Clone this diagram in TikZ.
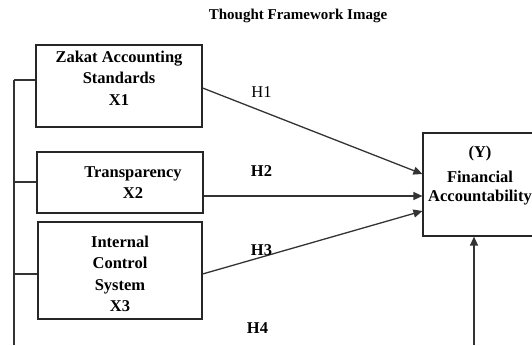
\documentclass[tikz,border=0pt]{standalone}
\usepackage{fontspec}
\setmainfont{Liberation Serif}
\usetikzlibrary{arrows.meta,calc}
\begin{document}
\begin{tikzpicture}[x=1pt,y=-1pt,
  box/.style={draw=black!85, line width=1.2pt, rectangle, inner sep=0pt},
  txt/.style={font=\fontsize{16.5}{21.5}\selectfont\bfseries, align=center, inner sep=0pt},
  hlab/.style={font=\fontsize{16.5}{20}\selectfont, inner sep=0pt, anchor=base},
  hbold/.style={hlab, font=\fontsize{16.5}{20}\selectfont\bfseries},
  conn/.style={draw=black!80, line width=1.3pt},
  arr/.style={conn, -{Triangle[length=9pt,width=8pt]}}]
\useasboundingbox (0,0) rectangle (532,345);
\clip (0,0) rectangle (532,345);
\node[font=\fontsize{15}{18}\selectfont\bfseries, inner sep=0pt, anchor=base] (title) at (298,20) {Thought Framework Image};
% boxes
\node[box, minimum width=166, minimum height=82] (X1) at (119,86) {};
\node[box, minimum width=166, minimum height=61] (X2) at (120,182.5) {};
\node[box, minimum width=164, minimum height=97] (X3) at (120,270.5) {};
\node[box, minimum width=120, minimum height=103] (Y) at (483,184.5) {};
% box texts
\node[txt, anchor=north] (X1t) at (119,50.8) {Zakat Accounting\\Standards\\X1};
\node[txt, anchor=north] (X2t) at (133,166) {Transparency\\X2};
\node[txt, anchor=north] (X3t) at (120,235.8) {Internal\\Control\\System\\X3};
\node[txt, anchor=north] (Yt) at (480,145.5) {(Y)\\[4pt]Financial\\[-3pt]Accountability};
% left bracket
\coordinate (s1) at (14,80);
\coordinate (s2) at (14,182);
\coordinate (s3) at (14,274);
\coordinate (sb) at (14,345);
\coordinate (yb) at (474,345);
\draw[conn] (s1) -- (sb);
\draw[conn] (s1) -- (s1 -| X1.west);
\draw[conn] (s2) -- (s2 -| X2.west);
\draw[conn] (s3) -- (s3 -| X3.west);
% arrows
\draw[arr] ($(X1.east)+(0,2)$) -- ($(Y.west)+(0,-10.5)$);
\draw[arr] ($(X2.east)+(0,13.5)$) -- ($(Y.west)+(0,11.5)$);
\draw[arr] ($(X3.east)+(0,3.5)$) -- ($(Y.west)+(0,26.5)$);
\draw[arr] (yb) -- (yb |- Y.south);
% labels
\node[hlab] (H1) at (261.5,97) {H1};
\node[hbold] (H2) at (261.5,176) {H2};
\node[hbold] (H3) at (261.5,255) {H3};
\node[hbold] (H4) at (257.5,333) {H4};
\end{tikzpicture}
\end{document}
